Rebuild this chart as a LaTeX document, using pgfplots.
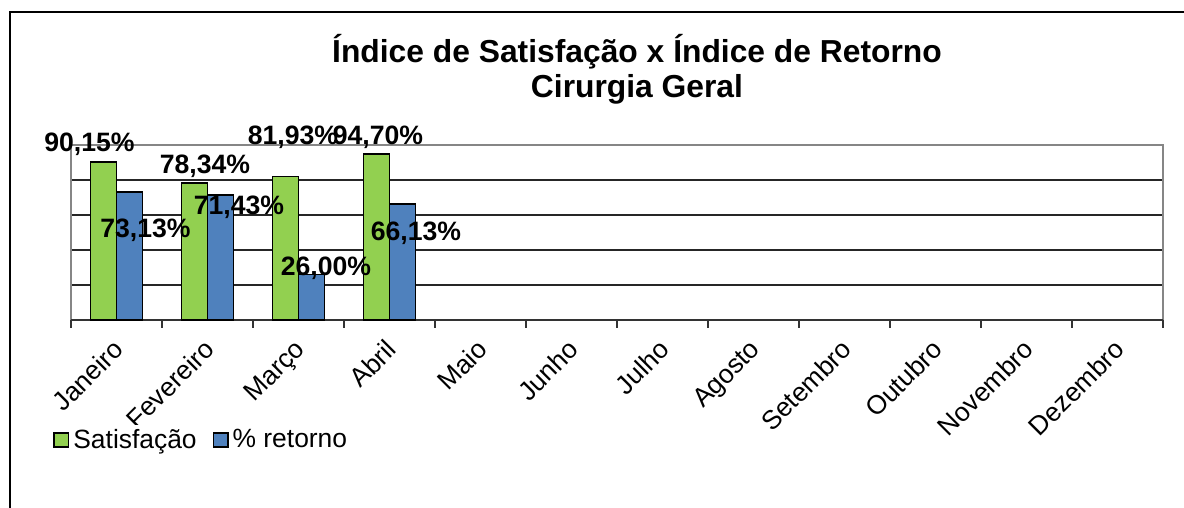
\documentclass[border=0pt]{standalone}
\usepackage{pgfplots}
\pgfplotsset{compat=1.18}
\usepackage{pgfplotstable}
\usepackage{fontspec}
\setmainfont{Liberation Sans}
\definecolor{satgreen}{HTML}{92D050}
\definecolor{retblue}{HTML}{4F81BD}
\definecolor{framegray}{HTML}{868686}

% dx, dy: label offsets from the bar top, in pixels of the reference
\pgfplotstableread{
x y dx dy
0 90.15 -14 18
1 78.34 10.5 17
2 81.93 7.5 39
3 94.70 1.5 17
}\satis
\pgfplotstableread{
x y dx dy
0 73.13 16 -38
1 71.43 18.5 -12
2 26.00 14.5 6.5
3 66.13 13.5 -29.5
}\retorno

\pgfplotsset{
  barlabels/.style={
    nodes near coords={\pgfmathprintnumber[fixed, fixed zerofill, precision=2, use comma]{\pgfplotspointmeta}\%},
    visualization depends on={0.5*\thisrow{dx} \as \dx},
    visualization depends on={0.5*\thisrow{dy} \as \dy},
    every node near coord/.append style={anchor=center, inner sep=0pt,
      xshift={\dx*1pt}, yshift={\dy*1pt},
      font=\fontsize{13.3}{15}\selectfont\bfseries, text=black},
  }
}

\begin{document}
\begin{tikzpicture}
\path[use as bounding box] (0,0) rectangle (592pt,254pt);
\draw[line width=0.9pt] (5pt,0) -- (5pt,248pt) -- (592pt,248pt);
\node[anchor=base,font=\fontsize{15.9}{18}\selectfont\bfseries] at (318.5pt,222.5pt) {Índice de Satisfação x Índice de Retorno};
\node[anchor=base,font=\fontsize{15.9}{18}\selectfont\bfseries] at (318.5pt,205pt) {Cirurgia Geral};
\begin{axis}[
  at={(35.5pt,94pt)}, anchor=south west,
  scale only axis, width=546pt, height=87.5pt,
  xmin=-0.5, xmax=11.5, ymin=0, ymax=100,
  ybar=0pt, bar width=13pt,
  /pgf/number format/assume math mode=true,
  axis line style={framegray, line width=1pt},
  xtick pos=lower, ytick pos=left,
  xtick={0,...,11},
  xticklabels={Janeiro,Fevereiro,Março,Abril,Maio,Junho,Julho,Agosto,Setembro,Outubro,Novembro,Dezembro},
  major tick length=0pt,
  xticklabel style={yshift=-8.7pt, xshift=-2.5pt, rotate=45, anchor=north east, inner sep=0pt,
    font=\fontsize{13.2}{15}\selectfont},
  extra x ticks={-0.5,0.5,...,11.5},
  extra x tick labels={},
  extra x tick style={xtick pos=lower, tick align=outside, major tick length=4pt, grid=none,
    tick style={black!80, line width=0.7pt}},
  ytick={20,40,60,80}, yticklabels={},
  ymajorgrids, major grid style={black!85, line width=0.7pt},
  extra y ticks={0}, extra y tick labels={},
  extra y tick style={grid=major, major grid style={black!80, line width=0.9pt}},
  legend style={at={(axis description cs:-0.0165,-0.686)}, anchor=west, draw=none,
    inner sep=0pt, font=\fontsize{13.2}{15}\selectfont, legend columns=-1,
    /tikz/every even column/.append style={column sep=6pt}},
  legend image code/.code={\draw[#1, line width=0.8pt] (0pt,-3.6pt) rectangle (7.2pt,3.6pt);},
  legend cell align=left,
  clip=false,
]
\addplot[fill=satgreen, draw=black, line width=0.8pt, barlabels] table[x=x, y=y] {\satis};
\addplot[fill=retblue, draw=black, line width=0.8pt, barlabels] table[x=x, y=y] {\retorno};
\legend{Satisfação, \% retorno}
\end{axis}
\end{tikzpicture}
\end{document}
